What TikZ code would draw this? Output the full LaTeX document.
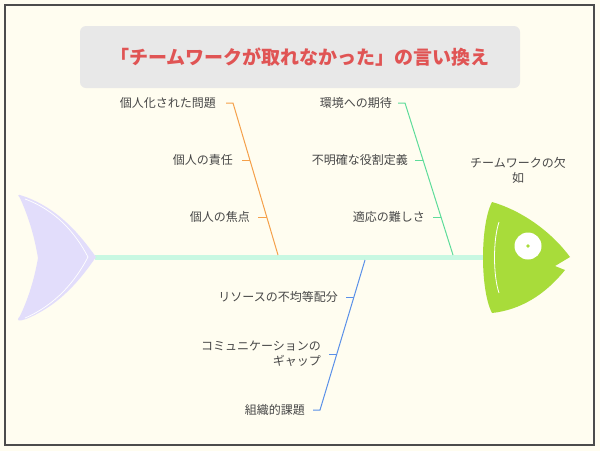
\documentclass[tikz,border=0pt]{standalone}
\usepackage{fontspec}
\setmainfont{Noto Sans CJK JP}
\begin{document}
\begin{tikzpicture}[x=1pt,y=-1pt,
  lbl/.style={font=\fontsize{12}{15}\selectfont,text=black!72,inner sep=0pt},
  bone/.style={line width=1pt}]
\definecolor{bg}{HTML}{FFFDF0}
\definecolor{ora}{HTML}{F5A04A}
\definecolor{grn}{HTML}{5EDC9A}
\definecolor{blu}{HTML}{5A90E8}
\definecolor{head}{HTML}{A8DC3A}
\definecolor{tail}{HTML}{E2DDFB}
\definecolor{spine}{HTML}{C8F8E2}
\useasboundingbox (0,0) rectangle (600,451);
\fill[bg] (0,0) rectangle (600,451);
\draw[black!70,line width=1.2pt] (5,5) rectangle (594,445);
% title
\node[fill=black!9,rounded corners=6pt,minimum width=440,minimum height=62,inner sep=0pt] (title) at (300,57) {};
\node[text={rgb,255:red,224;green,84;blue,84},font=\fontsize{19}{22}\selectfont\bfseries] (tt) at (title) {「チームワークが取れなかった」の言い換え};
% spine
\coordinate (sp1) at (95,257); \coordinate (sp2) at (485,257);
\draw[spine,line width=5pt] (sp1) -- (sp2);
% tail
\fill[tail] (20,198) .. controls (15,192) and (22,196) .. (26,197) .. controls (60,210) and (80,235) .. (96,257) .. controls (80,280) and (60,305) .. (26,319) .. controls (20,321) and (15,322) .. (20,316) .. controls (30,295) and (35,275) .. (38,258) .. controls (35,240) and (30,220) .. (20,198) -- cycle;
\draw[white,line width=0.7pt] (25,199) .. controls (55,210) and (75,232) .. (88,257) .. controls (75,282) and (55,305) .. (25,318);
% head
\fill[head] (492,202) .. controls (520,210) and (550,230) .. (570,257) -- (555,266) -- (565,270) .. controls (545,295) and (520,310) .. (492,313) .. controls (480,290) and (480,225) .. (492,202) -- cycle;
\draw[white,line width=0.8pt] (499,222) .. controls (493,240) and (493,275) .. (499,293);
\node[circle,fill=white,minimum size=27,inner sep=0pt] (eye) at (528,246) {};
\fill[head] (eye) circle (1.8);
\node[lbl,align=center] (hl) at (518,170) {チームワークの欠\\如};
% orange bone
\coordinate (o0) at (226,103); \coordinate (o1) at (233,103); \coordinate (o2) at (278,255);
\draw[ora,bone] (o0) -- (o1) -- (o2);
\coordinate (oa) at (242,160); \coordinate (ob) at (250,160);
\coordinate (oc) at (258,217); \coordinate (od) at (267,217);
\draw[ora,bone] (oa) -- (ob); \draw[ora,bone] (oc) -- (od);
\node[lbl,anchor=east] (l1) at (216,103) {個人化された問題};
\node[lbl,anchor=east] (l2) at (233,160) {個人の責任};
\node[lbl,anchor=east] (l3) at (250,217) {個人の焦点};
% green bone
\coordinate (g0) at (398,103); \coordinate (g1) at (405,103); \coordinate (g2) at (453,255);
\draw[grn,bone] (g0) -- (g1) -- (g2);
\coordinate (ga) at (415,160); \coordinate (gb) at (423,160);
\coordinate (gc) at (433,217); \coordinate (gd) at (441,217);
\draw[grn,bone] (ga) -- (gb); \draw[grn,bone] (gc) -- (gd);
\node[lbl,anchor=east] (r1) at (392,103) {環境への期待};
\node[lbl,anchor=east] (r2) at (408,160) {不明確な役割定義};
\node[lbl,anchor=east] (r3) at (425,217) {適応の難しさ};
% blue bone
\coordinate (b0) at (365,260); \coordinate (b1) at (320,410); \coordinate (b2) at (313,410);
\draw[blu,bone] (b0) -- (b1) -- (b2);
\coordinate (ba) at (346,297); \coordinate (bb) at (354,297);
\coordinate (bc) at (329,354); \coordinate (bd) at (337,354);
\draw[blu,bone] (ba) -- (bb); \draw[blu,bone] (bc) -- (bd);
\node[lbl,anchor=east] (d1) at (338,297) {リソースの不均等配分};
\node[lbl,anchor=east,align=right] (d2) at (321,354) {コミュニケーションの\\ギャップ};
\node[lbl,anchor=east] (d3) at (305,410) {組織的課題};
\end{tikzpicture}
\end{document}
